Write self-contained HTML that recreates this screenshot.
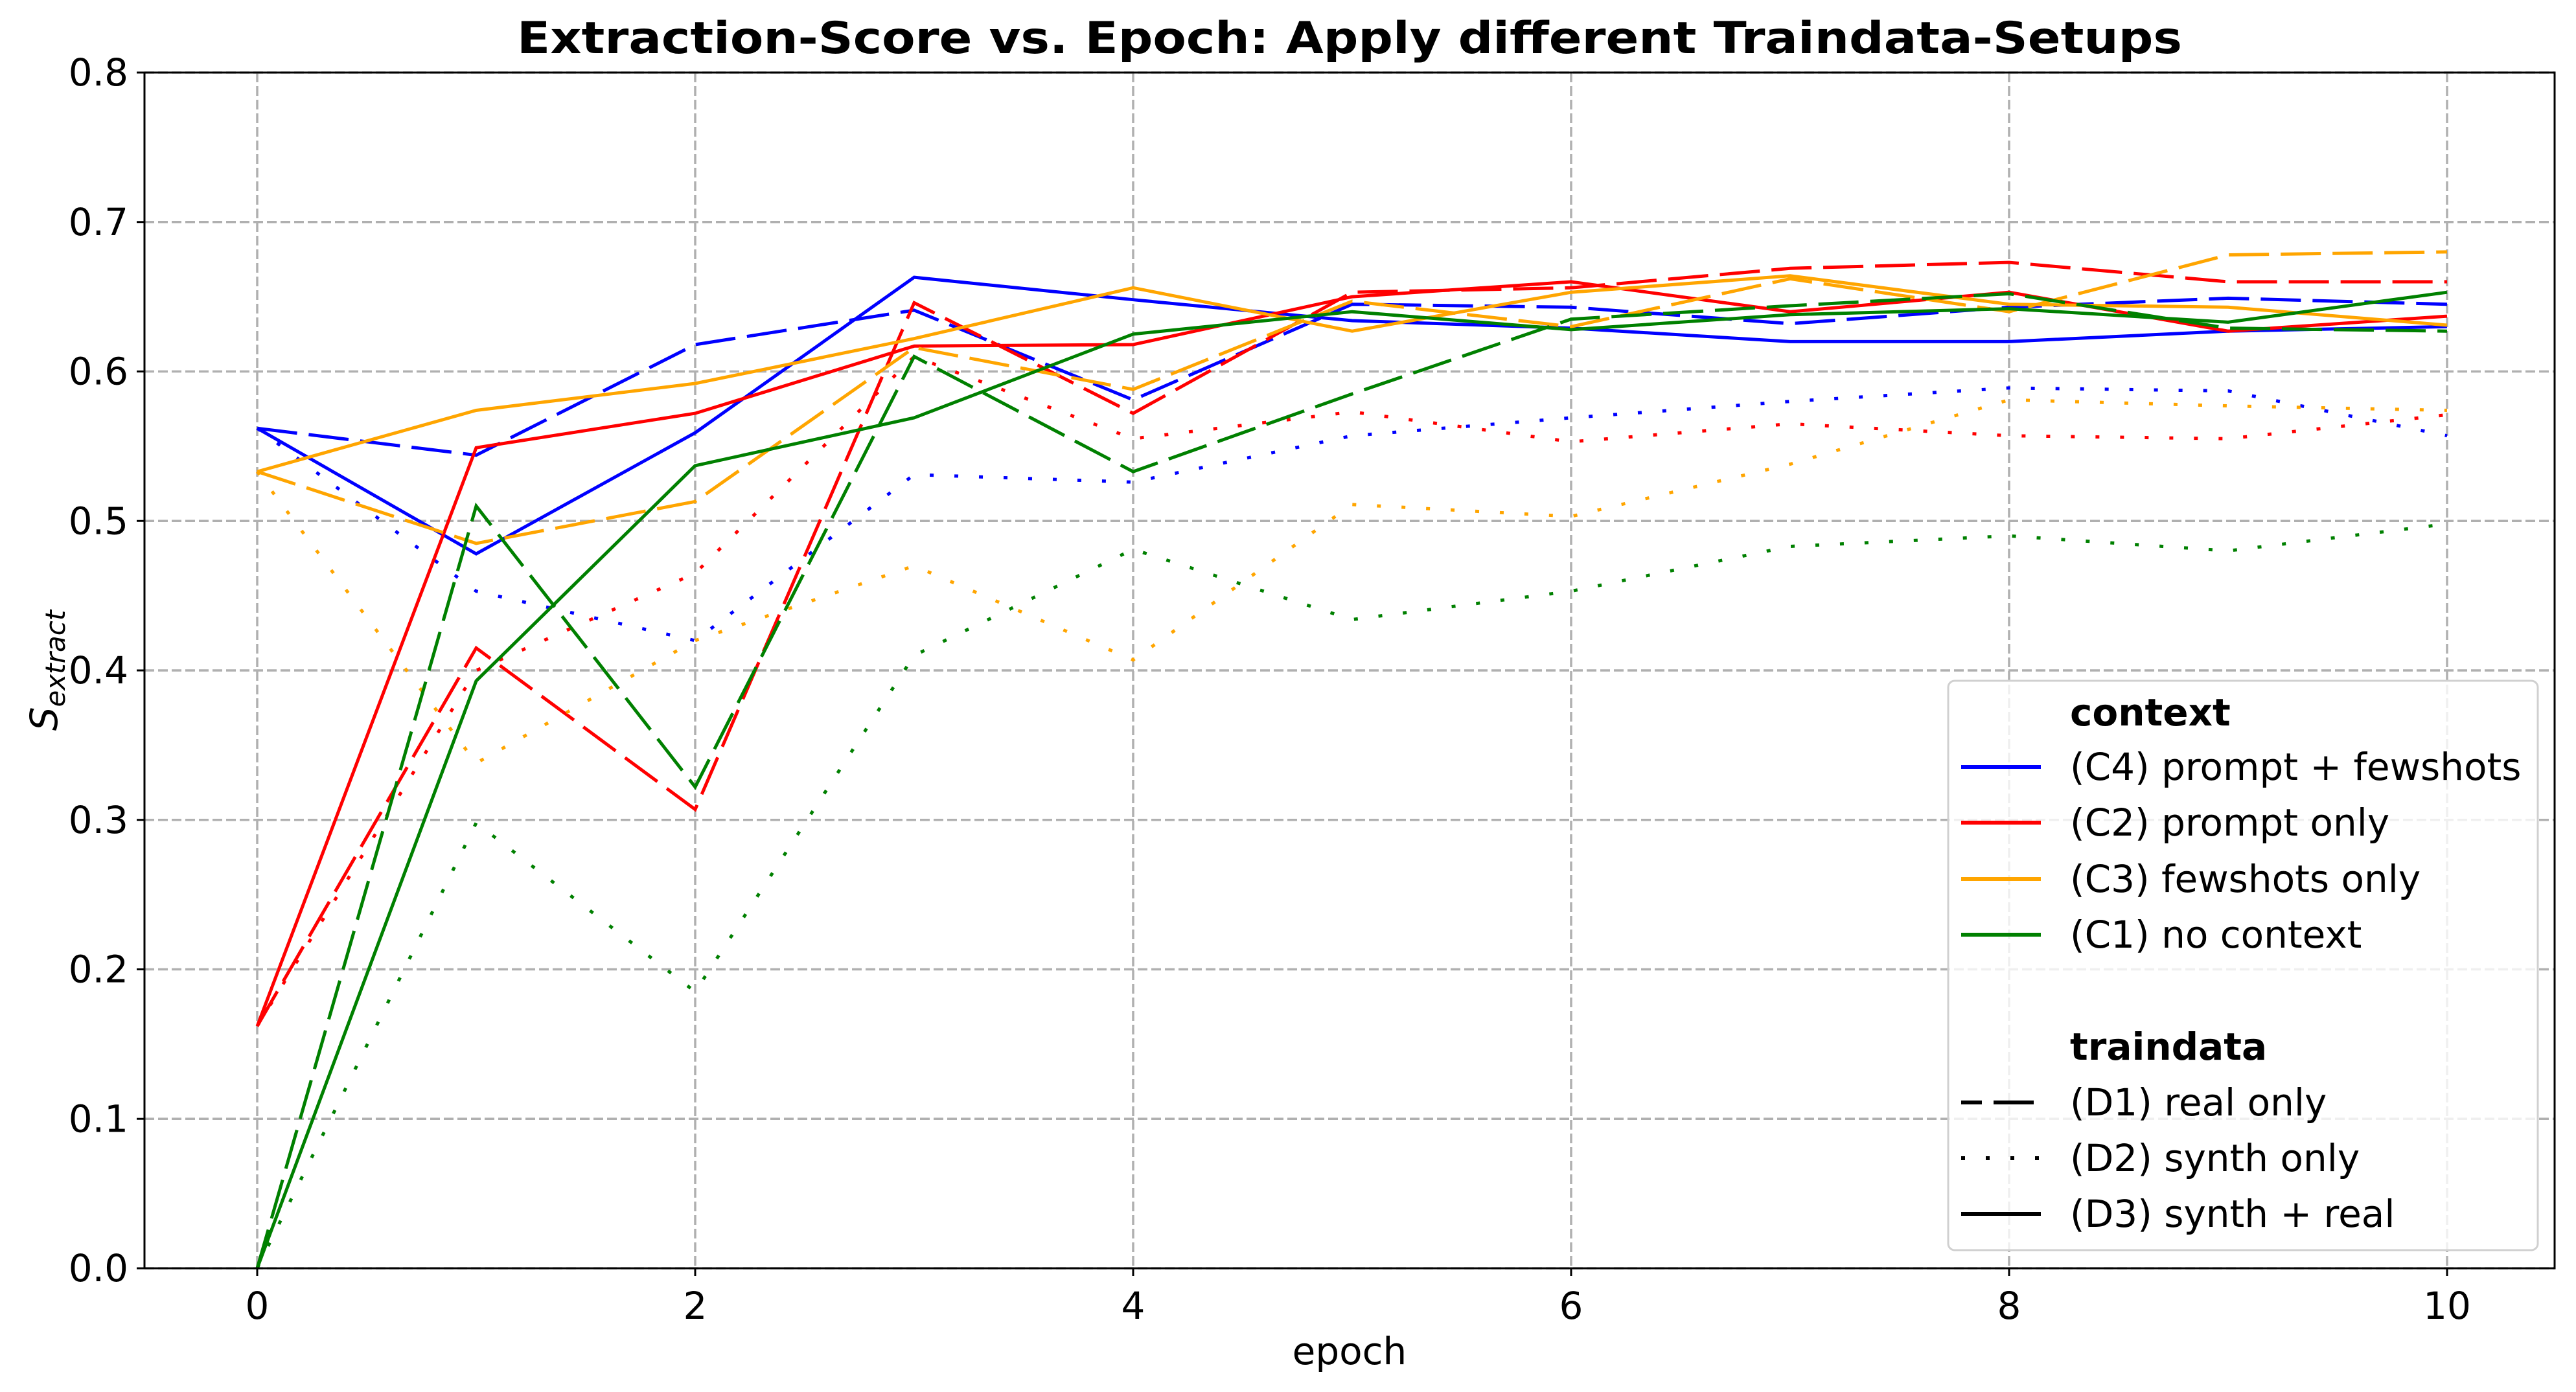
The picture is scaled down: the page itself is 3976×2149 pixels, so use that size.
<!DOCTYPE html>
<html><head><meta charset="utf-8"><style>
html,body{margin:0;padding:0;background:#fff;}
svg{display:block;font-family:"DejaVu Sans","Liberation Sans",sans-serif;}
</style></head><body>
<svg id="chart" width="3976" height="2149" viewBox="0 0 3976 2149" xmlns="http://www.w3.org/2000/svg">
<rect x="0" y="0" width="3976" height="2149" fill="#fff"/>
<text x="2083" y="82" text-anchor="middle" font-size="68" font-weight="bold" textLength="2570" lengthAdjust="spacingAndGlyphs">Extraction-Score vs. Epoch: Apply different Traindata-Setups</text>
<g id="grid"></g>
<g id="series"></g>
<rect x="223" y="112" width="3720" height="1846" fill="none" stroke="#000" stroke-width="3"/>
<g id="ticks"></g>
<text x="2083" y="2106" text-anchor="middle" font-size="58">epoch</text>
<text transform="translate(88,1035) rotate(-90)" text-anchor="middle" font-size="58" font-style="italic">S<tspan font-size="42" dy="12">extract</tspan></text>
<g id="legend"></g>
</svg>
<script>
const epochs=[0,1,2,3,4,5,6,7,8,9,10];
const yTicks=[0.0,0.1,0.2,0.3,0.4,0.5,0.6,0.7,0.8];
const xTicks=[0,2,4,6,8,10];
const c4_d1=[0.562,0.544,0.618,0.641,0.581,0.645,0.643,0.632,0.643,0.649,0.645];
const c4_d2=[0.562,0.453,0.420,0.531,0.526,0.557,0.569,0.580,0.589,0.587,0.557];
const c4_d3=[0.562,0.478,0.559,0.663,0.648,0.634,0.629,0.620,0.620,0.627,0.630];
const c2_d1=[0.162,0.415,0.307,0.646,0.572,0.653,0.656,0.669,0.673,0.660,0.660];
const c2_d2=[0.162,0.400,0.465,0.610,0.555,0.573,0.553,0.565,0.557,0.555,0.571];
const c2_d3=[0.162,0.549,0.572,0.617,0.618,0.650,0.660,0.640,0.653,0.627,0.637];
const c3_d1=[0.533,0.485,0.513,0.616,0.588,0.647,0.630,0.662,0.640,0.678,0.680];
const c3_d2=[0.533,0.338,0.420,0.470,0.407,0.511,0.503,0.538,0.581,0.577,0.574];
const c3_d3=[0.533,0.574,0.592,0.622,0.656,0.627,0.653,0.664,0.645,0.643,0.631];
const c1_d1=[0.000,0.510,0.322,0.610,0.533,0.585,0.635,0.644,0.652,0.629,0.627];
const c1_d2=[0.000,0.298,0.185,0.410,0.481,0.434,0.453,0.483,0.490,0.480,0.498];
const c1_d3=[0.000,0.393,0.537,0.569,0.625,0.640,0.628,0.638,0.642,0.633,0.653];

const NS="http://www.w3.org/2000/svg";
const X0=397,X10=3777,Y0=1958,Y8=112;
function xs(e){return X0+(X10-X0)*e/10;}
function ys(v){return Y0-(Y0-Y8)*v/0.8;}
function mk(t,p,a){const el=document.createElementNS(NS,t);for(const k in a)el.setAttribute(k,a[k]);p.appendChild(el);return el;}
const grid=document.getElementById('grid'),ticks=document.getElementById('ticks'),ser=document.getElementById('series'),leg=document.getElementById('legend');
yTicks.forEach(v=>{
 const l=mk('line',grid,{x1:223,x2:3943,y1:ys(v),y2:ys(v),stroke:'#b0b0b0','stroke-width':3.5,'stroke-dasharray':'15,6'});
 
 
 const t=mk('line',ticks,{x1:211,x2:223,y1:ys(v),y2:ys(v),stroke:'#000','stroke-width':3});
 
 
 const tx=mk('text',ticks,{x:198,y:ys(v)+20,'text-anchor':'end','font-size':58});
 tx.textContent=v.toFixed(1);
 
 
});
xTicks.forEach(e=>{
 const l=mk('line',grid,{x1:xs(e),x2:xs(e),y1:112,y2:1958,stroke:'#b0b0b0','stroke-width':3.5,'stroke-dasharray':'15,6'});
 
 
 const t=mk('line',ticks,{x1:xs(e),x2:xs(e),y1:1958,y2:1970,stroke:'#000','stroke-width':3});
 
 
 const tx=mk('text',ticks,{x:xs(e),y:2036,'text-anchor':'middle','font-size':58});
 tx.textContent=String(e);
 
 
});
const DASH={d1:'62,18',d2:'6,32',d3:'none'};
const COL={c4:'#0000ff',c2:'#ff0000',c3:'#ffa500',c1:'#008000'};
const SER=[['c4','d1',c4_d1],['c4','d2',c4_d2],['c4','d3',c4_d3],['c2','d1',c2_d1],['c2','d2',c2_d2],['c2','d3',c2_d3],['c3','d1',c3_d1],['c3','d2',c3_d2],['c3','d3',c3_d3],['c1','d1',c1_d1],['c1','d2',c1_d2],['c1','d3',c1_d3]];
SER.forEach(([c,d,vals])=>{
 const pts=vals.map((v,i)=>xs(epochs[i]).toFixed(1)+','+ys(v).toFixed(1)).join(' ');
 const a={points:pts,fill:'none',stroke:COL[c],'stroke-width':5,'stroke-linejoin':'miter'};
 if(DASH[d]!=='none')a['stroke-dasharray']=DASH[d];
 const p=mk('polyline',ser,a);
 
 
});
const box=mk('rect',leg,{x:3007,y:1051,width:910,height:879,rx:10,fill:'#fff','fill-opacity':0.8,stroke:'#d0d0d0','stroke-width':3});


const LEG=[['context',1100,null,null,true],['(C4) prompt + fewshots',1184,'#0000ff','none'],['(C2) prompt only',1270,'#ff0000','none'],['(C3) fewshots only',1357,'#ffa500','none'],['(C1) no context',1443,'#008000','none'],['traindata',1616,null,null,true],['(D1) real only',1702,'#000','62,18'],['(D2) synth only',1788,'#000','6,32'],['(D3) synth + real',1874,'#000','none']];
LEG.forEach(([txt,y,col,dash,bold])=>{
 if(col){
  const a={x1:3027,x2:3150,y1:y,y2:y,stroke:col,'stroke-width':6};
  if(dash!=='none'){a['stroke-dasharray']=dash;a['stroke-dashoffset']=dash==='62,18'?30:0;}
  const l=mk('line',leg,a);
  
  
 }
 const t=mk('text',leg,{x:3195,y:y+20,'font-size':58,'font-weight':bold?'bold':'normal'});
 t.textContent=txt;
 
 
});
</script>
</body></html>
